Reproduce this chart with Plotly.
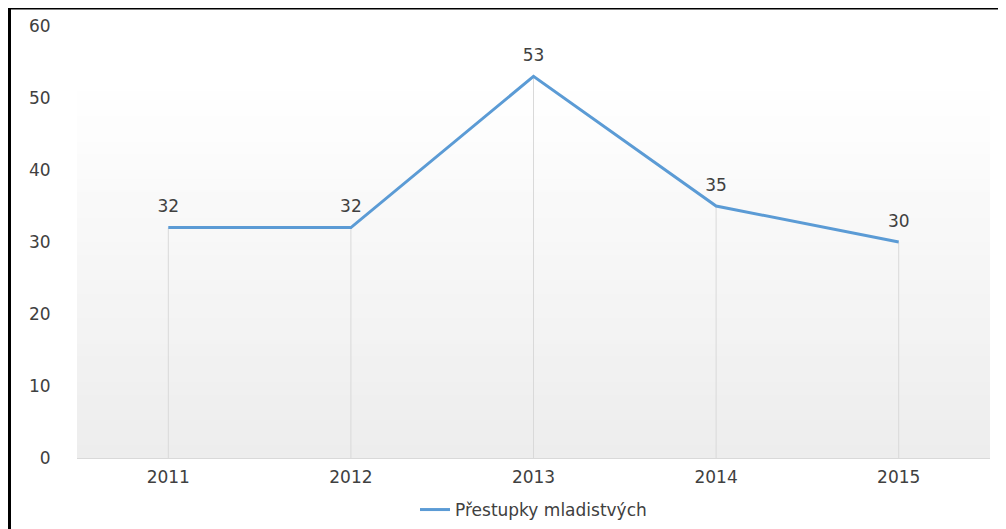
import plotly.graph_objects as go

years = ["2011", "2012", "2013", "2014", "2015"]
values = [32, 32, 53, 35, 30]
series_name = "Přestupky mladistvých"
y_ticks = [0, 10, 20, 30, 40, 50, 60]

font_family = "DejaVu Sans"
text_color = "#404040"
fs = 17

# the page body has an 8px margin, so the figure is sized to fit inside the window
W, H = 998, 521
L, T, R, B = 69, 18, 16, 71
PW, PH = W - L - R, H - T - B

fig = go.Figure()

# drop lines from each point to the axis
fig.add_trace(go.Scatter(
    x=years, y=values, mode="markers",
    marker=dict(size=1, opacity=0),
    error_y=dict(type="data", symmetric=False, array=[0] * len(values),
                 arrayminus=values, width=0, thickness=1, color="#d9d9d9"),
    showlegend=False, hoverinfo="skip",
))

fig.add_trace(go.Scatter(
    x=years, y=values, mode="lines+markers+text", name=series_name,
    line=dict(color="#5B9BD5", width=3),
    marker=dict(size=16, color="rgba(0,0,0,0)"),
    text=[str(v) for v in values], textposition="top center",
    textfont=dict(family=font_family, size=fs, color=text_color),
    cliponaxis=False,
))

# gradient background (white at top, light grey at bottom)
shapes = []
n = 30
top = 0.88
for i in range(n):
    y0 = top * i / n
    y1 = top * (i + 1) / n
    t = i / (n - 1)
    c = int(round(237 + (255 - 237) * t))
    shapes.append(dict(type="rect", xref="paper", yref="paper", x0=0, x1=1,
                       y0=y0, y1=y1 + 0.002, fillcolor=f"rgb({c},{c},{c})",
                       line=dict(width=0), layer="below"))
# frame lines (left and top border of the image)
fx = (1.5 - L) / PW
fy = (T + PH - 0.5) / PH
shapes.append(dict(type="line", xref="paper", yref="paper",
                   x0=fx, x1=fx, y0=-2, y1=fy,
                   line=dict(color="black", width=3)))
shapes.append(dict(type="line", xref="paper", yref="paper",
                   x0=fx - 0.002, x1=1.1, y0=fy, y1=fy,
                   line=dict(color="black", width=2)))

fig.update_layout(
    width=W, height=H,
    margin=dict(l=L, r=R, t=T, b=B, autoexpand=False),
    paper_bgcolor="white", plot_bgcolor="white",
    font=dict(family=font_family, size=fs, color=text_color),
    shapes=shapes,
    showlegend=True,
    legend=dict(orientation="h", x=0.5, xanchor="center",
                yref="container", y=(H - 502) / H, yanchor="middle",
                font=dict(family=font_family, size=fs, color=text_color)),
    xaxis=dict(type="category", range=[-0.5, 4.5], showgrid=False,
               showline=True, linecolor="#d9d9d9", linewidth=1,
               ticks="outside", ticklen=4, tickcolor="rgba(0,0,0,0)",
               tickfont=dict(size=fs), zeroline=False, automargin=False),
    yaxis=dict(range=[0, 60], tickvals=y_ticks, showgrid=False, zeroline=False,
               showline=False, ticks="outside", ticklen=22, tickcolor="rgba(0,0,0,0)",
               tickfont=dict(size=fs), automargin=False),
)

fig.write_html("out.html")
